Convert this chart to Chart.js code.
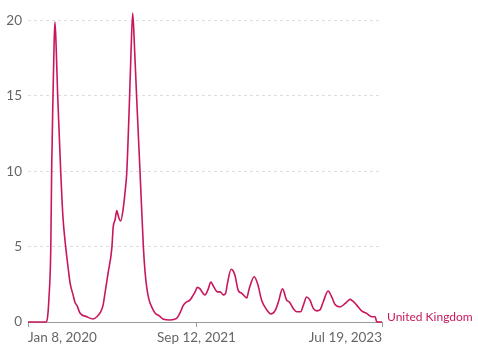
<!DOCTYPE html>
<html>
<head>
<meta charset="utf-8">
<script src="https://cdn.jsdelivr.net/npm/chart.js@4"></script>
<style>
html,body{margin:0;padding:0;background:#fff;}
#wrap{width:478px;height:349px;position:relative;}
</style>
</head>
<body>
<div id="wrap"><canvas id="c" width="478" height="349"></canvas></div>
<script>
// Days since Jan 8, 2020
const dayOffsets = [0,65,71,76,83,86,91,95,98,102,108,119,127,137,146,153,164,171,178,189,214,237,251,262,273,280,291,305,310,317,323,329,337,347,353,359,364,369,375,381,388,396,408,420,426,432,440,450,462,478,491,517,541,553,565,577,589,601,608,616,626,633,644,656,665,677,689,699,711,719,725,739,746,753,765,778,796,802,808,823,836,850,869,884,899,911,926,941,951,965,978,992,1002,1014,1026,1038,1051,1062,1074,1092,1105,1117,1135,1154,1172,1181,1196,1214,1232,1251,1263,1269,1288];
const deathsPerMillion = [0,0,0.3,1.5,5,10,15,18.5,19.9,18.5,15,10,7,5,3.6,2.6,1.8,1.3,1.1,0.6,0.35,0.2,0.35,0.6,1.1,1.9,3.2,4.9,6.3,6.8,7.4,7.0,6.7,7.6,8.6,9.8,12,14.6,18,20.5,18,14.6,9.8,4.9,3.3,2.3,1.5,1.0,0.6,0.4,0.2,0.13,0.24,0.6,1.1,1.33,1.45,1.78,2.0,2.3,2.2,2.0,1.8,2.2,2.65,2.3,2.0,2.0,1.8,1.9,2.5,3.5,3.4,3.1,2.1,1.9,1.6,2.0,2.4,3.0,2.5,1.45,0.8,0.53,0.75,1.33,2.2,1.45,1.33,0.9,0.68,0.68,1.12,1.66,1.45,0.9,0.74,0.8,1.33,2.06,1.66,1.16,1.0,1.23,1.5,1.4,1.12,0.74,0.57,0.35,0.35,0.02,0];
const xTickDays = [0, 613, 1288];
const xTickLabels = ["Jan 8, 2020", "Sep 12, 2021", "Jul 19, 2023"];
const yTicks = [0, 5, 10, 15, 20];
const seriesName = "United Kingdom";

const lineColor = "#c8175e";
const textColor = "#666666";

const endLabel = {
  id: 'endLabel',
  afterDatasetsDraw(chart) {
    const meta = chart.getDatasetMeta(0);
    const last = meta.data[meta.data.length - 1];
    const ctx = chart.ctx;
    ctx.save();
    ctx.font = '12px Lato';
    ctx.fillStyle = lineColor;
    ctx.textBaseline = 'middle';
    ctx.textAlign = 'left';
    ctx.fillText(seriesName, chart.chartArea.right + 5, last.y - 5);
    ctx.restore();
  }
};

new Chart(document.getElementById('c'), {
  type: 'line',
  data: {
    datasets: [{
      label: seriesName,
      data: dayOffsets.map((d, i) => ({x: d, y: deathsPerMillion[i]})),
      borderColor: lineColor,
      borderWidth: 1.6,
      pointRadius: 0,
      fill: false,
      clip: false,
      cubicInterpolationMode: 'monotone'
    }]
  },
  options: {
    responsive: false,
    animation: false,
    layout: {padding: {top: 0, right: 96, left: 0, bottom: 0}},
    plugins: {legend: {display: false}, tooltip: {enabled: false}},
    scales: {
      x: {
        type: 'linear',
        min: 0,
        max: 1288,
        afterBuildTicks(s) { s.ticks = xTickDays.map(v => ({value: v})); },
        afterFit(s) { s.height = 27; },
        ticks: {
          align: 'inner',
          maxRotation: 0,
          autoSkip: false,
          padding: 3,
          color: textColor,
          font: {family: 'Lato', size: 13.5},
          callback(v) { const i = xTickDays.indexOf(v); return i >= 0 ? xTickLabels[i] : ''; }
        },
        grid: {drawOnChartArea: false, drawTicks: true, tickLength: 5, color: '#9a9a9a', lineWidth: 1},
        border: {display: true, color: '#9a9a9a', width: 1}
      },
      y: {
        min: 0,
        max: 20.43,
        afterBuildTicks(s) { s.ticks = yTicks.map(v => ({value: v})); },
        afterFit(s) { s.width = 28; },
        ticks: {
          padding: 6,
          color: textColor,
          font: {family: 'Lato', size: 13.5}
        },
        grid: {drawTicks: false, color: '#dddddd', lineWidth: 1},
        border: {display: false, dash: [3, 3]}
      }
    }
  },
  plugins: [endLabel]
});
</script>
</body>
</html>
